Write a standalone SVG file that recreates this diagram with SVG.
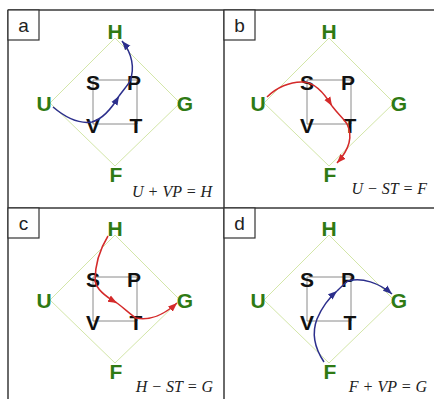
<svg xmlns="http://www.w3.org/2000/svg" width="434" height="399" viewBox="0 0 434 399">
<style>
.frame{stroke:#3a3a3a;stroke-width:1.5;fill:none}
.lbox{stroke:#333;stroke-width:1.2;fill:#fff}
.ltxt{font-family:"Liberation Sans",Arial,sans-serif;font-size:19px;fill:#222;text-anchor:middle}
.dia{stroke:#d3e6a8;stroke-width:1;fill:none}
.sq{stroke:#8a8a8a;stroke-width:1;fill:none}
.g{font-family:"Liberation Sans",Arial,sans-serif;font-weight:bold;font-size:21px;fill:#2f7a14;text-anchor:middle}
.k{font-family:"Liberation Sans",Arial,sans-serif;font-weight:bold;font-size:21px;fill:#111;text-anchor:middle}
.eq{font-family:"Liberation Serif","Times New Roman",serif;font-style:italic;font-size:16px;fill:#222;text-anchor:end}
.blue{stroke:#2c2f8c;stroke-width:1.5;fill:none}
.red{stroke:#d42a2a;stroke-width:1.5;fill:none}
.ab{marker-end:url(#arrB)}
.ar{marker-end:url(#arrR)}
</style>
<defs>
<marker id="arrB" markerUnits="userSpaceOnUse" markerWidth="10" markerHeight="10" viewBox="0 0 10 10" refX="9" refY="5" orient="auto"><path d="M0,1.5 L9,5 L0,8.5 Z" fill="#2c2f8c"/></marker>
<marker id="arrR" markerUnits="userSpaceOnUse" markerWidth="10" markerHeight="10" viewBox="0 0 10 10" refX="9" refY="5" orient="auto"><path d="M0,1.5 L9,5 L0,8.5 Z" fill="#d42a2a"/></marker>
</defs>
<rect width="434" height="399" fill="#fff"/>
<g id="frame">
<path class="frame" d="M8,10 H434 M8,208 H434 M8,10 V399 M224,10 V399"/>
</g>

<g id="panel-a">
<path class="dia" d="M115,38 L180,103 L115,166 L50,103 Z"/>
<path class="sq" d="M93,80 H137 V124 H93 Z"/>
<g id="a-H"><text class="g" x="115" y="39">H</text></g>
<g id="a-U"><text class="g" x="44" y="111">U</text></g>
<g id="a-G"><text class="g" x="185" y="111">G</text></g>
<g id="a-F"><text class="g" x="116" y="182">F</text></g>
<g id="a-S"><text class="k" x="93" y="90">S</text></g>
<g id="a-P"><text class="k" x="134" y="90">P</text></g>
<g id="a-V"><text class="k" x="93" y="133">V</text></g>
<g id="a-T"><text class="k" x="136" y="133">T</text></g>
<g id="a-conn">
<path class="blue ab" d="M53,107 C66,118 80,124 92,122 C102,119 112,108 119,96"/>
<path class="blue ab" d="M119,96 C124,89 128,85 130,81 C135,68 132,53 122,41"/>
</g>
<text class="eq" x="212" y="197">U + VP = H</text>
</g>

<g id="panel-b" transform="translate(214,0)">
<path class="dia" d="M115,38 L180,103 L115,166 L50,103 Z"/>
<path class="sq" d="M93,80 H137 V124 H93 Z"/>
<g id="b-H"><text class="g" x="115" y="39">H</text></g>
<g id="b-U"><text class="g" x="44" y="111">U</text></g>
<g id="b-G"><text class="g" x="185" y="111">G</text></g>
<g id="b-F"><text class="g" x="116" y="182">F</text></g>
<g id="b-S"><text class="k" x="93" y="90">S</text></g>
<g id="b-P"><text class="k" x="134" y="90">P</text></g>
<g id="b-V"><text class="k" x="93" y="133">V</text></g>
<g id="b-T"><text class="k" x="136" y="133">T</text></g>
<g id="b-conn">
<path class="red ar" d="M53,97 C62,88 76,81 90,82 C102,83 112,96 118,106"/>
<path class="red ar" d="M118,106 C124,114 130,119 133,124 C140,138 133,152 123,163"/>
</g>
<text class="eq" x="213" y="194">U − ST = F</text>
</g>

<g id="panel-c" transform="translate(0,197)">
<path class="dia" d="M115,38 L180,103 L115,166 L50,103 Z"/>
<path class="sq" d="M93,80 H137 V124 H93 Z"/>
<g id="c-H"><text class="g" x="115" y="39">H</text></g>
<g id="c-U"><text class="g" x="44" y="111">U</text></g>
<g id="c-G"><text class="g" x="185" y="111">G</text></g>
<g id="c-F"><text class="g" x="116" y="182">F</text></g>
<g id="c-S"><text class="k" x="93" y="90">S</text></g>
<g id="c-P"><text class="k" x="134" y="90">P</text></g>
<g id="c-V"><text class="k" x="93" y="133">V</text></g>
<g id="c-T"><text class="k" x="136" y="133">T</text></g>
<g id="c-conn">
<path class="red ar" d="M108,39 C100,52 95,68 95,84 C97,94 108,101 117,106"/>
<path class="red ar" d="M117,106 C125,112 131,118 136,121 C150,124 165,117 177,106"/>
</g>
<text class="eq" x="213" y="195">H − ST = G</text>
</g>

<g id="panel-d" transform="translate(214,197)">
<path class="dia" d="M115,38 L180,103 L115,166 L50,103 Z"/>
<path class="sq" d="M93,80 H137 V124 H93 Z"/>
<g id="d-H"><text class="g" x="115" y="39">H</text></g>
<g id="d-U"><text class="g" x="44" y="111">U</text></g>
<g id="d-G"><text class="g" x="185" y="111">G</text></g>
<g id="d-F"><text class="g" x="116" y="182">F</text></g>
<g id="d-S"><text class="k" x="93" y="90">S</text></g>
<g id="d-P"><text class="k" x="134" y="90">P</text></g>
<g id="d-V"><text class="k" x="93" y="133">V</text></g>
<g id="d-T"><text class="k" x="136" y="133">T</text></g>
<g id="d-conn">
<path class="blue ab" d="M110,165 C100,150 98,135 103,122 C108,110 115,101 123,94"/>
<path class="blue ab" d="M123,94 C127,90 130,87 134,84 C148,80 165,86 178,97"/>
</g>
<text class="eq" x="213" y="195">F + VP = G</text>
</g>

<g id="label-a"><rect class="lbox" x="8" y="10" width="31" height="30"/><text class="ltxt" x="23.5" y="32">a</text></g>
<g id="label-b"><rect class="lbox" x="224" y="10" width="31" height="30"/><text class="ltxt" x="239.5" y="32">b</text></g>
<g id="label-c"><rect class="lbox" x="8" y="208" width="31" height="30"/><text class="ltxt" x="23.5" y="230">c</text></g>
<g id="label-d"><rect class="lbox" x="224" y="208" width="31" height="30"/><text class="ltxt" x="239.5" y="230">d</text></g>
</svg>
